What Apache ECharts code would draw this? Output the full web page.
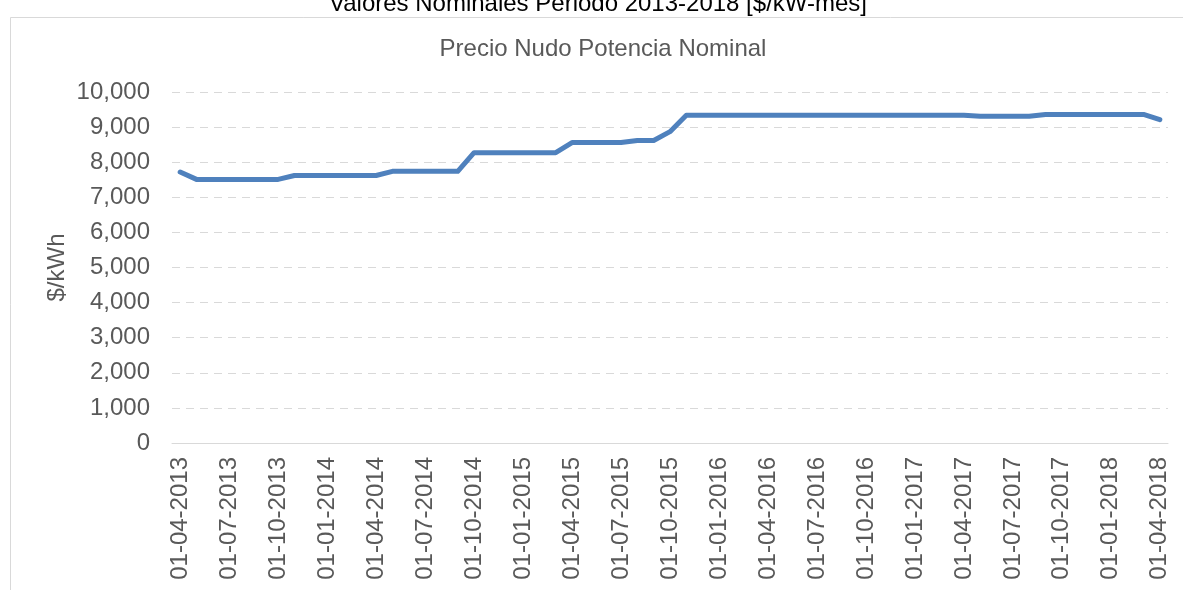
<!DOCTYPE html>
<html>
<head>
<meta charset="utf-8">
<script src="https://cdn.jsdelivr.net/npm/echarts@6/dist/echarts.min.js"></script>
<style>
  html, body { margin: 0; padding: 0; background: #fff; }
  #chart { width: 1183px; height: 590px; }
</style>
</head>
<body>
<div id="chart"></div>
<script>
// meses (primer dia de cada mes)
var fechas = [
  "01-04-2013", "01-05-2013", "01-06-2013", "01-07-2013", "01-08-2013", "01-09-2013",
  "01-10-2013", "01-11-2013", "01-12-2013", "01-01-2014", "01-02-2014", "01-03-2014",
  "01-04-2014", "01-05-2014", "01-06-2014", "01-07-2014", "01-08-2014", "01-09-2014",
  "01-10-2014", "01-11-2014", "01-12-2014", "01-01-2015", "01-02-2015", "01-03-2015",
  "01-04-2015", "01-05-2015", "01-06-2015", "01-07-2015", "01-08-2015", "01-09-2015",
  "01-10-2015", "01-11-2015", "01-12-2015", "01-01-2016", "01-02-2016", "01-03-2016",
  "01-04-2016", "01-05-2016", "01-06-2016", "01-07-2016", "01-08-2016", "01-09-2016",
  "01-10-2016", "01-11-2016", "01-12-2016", "01-01-2017", "01-02-2017", "01-03-2017",
  "01-04-2017", "01-05-2017", "01-06-2017", "01-07-2017", "01-08-2017", "01-09-2017",
  "01-10-2017", "01-11-2017", "01-12-2017", "01-01-2018", "01-02-2018", "01-03-2018",
  "01-04-2018"
];
// precio nudo potencia nominal [$/kW-mes]
var precioNudo = [
  7720, 7510, 7510, 7510, 7510, 7510,
  7510, 7620, 7620, 7620, 7620, 7620,
  7620, 7740, 7740, 7740, 7740, 7740,
  8270, 8270, 8270, 8270, 8270, 8270,
  8560, 8560, 8560, 8560, 8620, 8620,
  8870, 9340, 9340, 9340, 9340, 9340,
  9340, 9340, 9340, 9340, 9340, 9340,
  9340, 9340, 9340, 9340, 9340, 9340,
  9340, 9310, 9310, 9310, 9310, 9360,
  9360, 9360, 9360, 9360, 9360, 9360,
  9210
];
var ejeY = { min: 0, max: 10000, interval: 1000 };

var fuente = "Liberation Sans";
var gris = "#595959";

var chart = echarts.init(document.getElementById("chart"));
var option = {
  backgroundColor: "#fff",
  animation: false,
  title: [
    {
      text: "Valores Nominales Periodo 2013-2018 [$/kW-mes]",
      left: 593,
      textAlign: "center",
      top: -13,
      textStyle: { fontFamily: fuente, fontSize: 24, fontWeight: "normal", color: "#000" }
    },
    {
      text: "Precio Nudo Potencia Nominal",
      left: 598,
      textAlign: "center",
      top: 32,
      textStyle: { fontFamily: fuente, fontSize: 24, fontWeight: "normal", color: gris }
    }
  ],
  graphic: [
    {
      type: "rect",
      shape: { x: 10.5, y: 17.5, width: 1200, height: 600 },
      style: { fill: null, stroke: "#d9d9d9", lineWidth: 1 },
      silent: true
    }
  ],
  grid: { left: 172, right: 15, top: 92, bottom: 147 },
  xAxis: {
    type: "category",
    data: fechas,
    boundaryGap: true,
    axisLine: { lineStyle: { color: "#d9d9d9", width: 1 } },
    axisTick: { show: false },
    axisLabel: {
      interval: 2,
      rotate: 90,
      margin: 14,
      fontFamily: fuente,
      fontSize: 24,
      color: gris
    }
  },
  yAxis: {
    type: "value",
    min: ejeY.min,
    max: ejeY.max,
    interval: ejeY.interval,
    name: "$/kWh",
    nameLocation: "middle",
    nameRotate: 90,
    nameGap: 103,
    nameMoveOverlap: false,
    nameTextStyle: { fontFamily: fuente, fontSize: 24, color: gris },
    axisLine: { show: false },
    axisTick: { show: false },
    axisLabel: {
      margin: 22,
      fontFamily: fuente,
      fontSize: 24,
      color: gris,
      formatter: function (v) {
        return String(v).replace(/\B(?=(\d{3})+(?!\d))/g, ",");
      }
    },
    splitLine: { lineStyle: { color: "#d9d9d9", type: [8, 6], width: 1 } }
  },
  series: [
    {
      name: "Precio Nudo Potencia Nominal",
      type: "line",
      data: precioNudo,
      showSymbol: false,
      symbol: "none",
      lineStyle: { color: "#4f81bd", width: 5, cap: "round", join: "round" }
    }
  ]
};
chart.setOption(option);
</script>
</body>
</html>
